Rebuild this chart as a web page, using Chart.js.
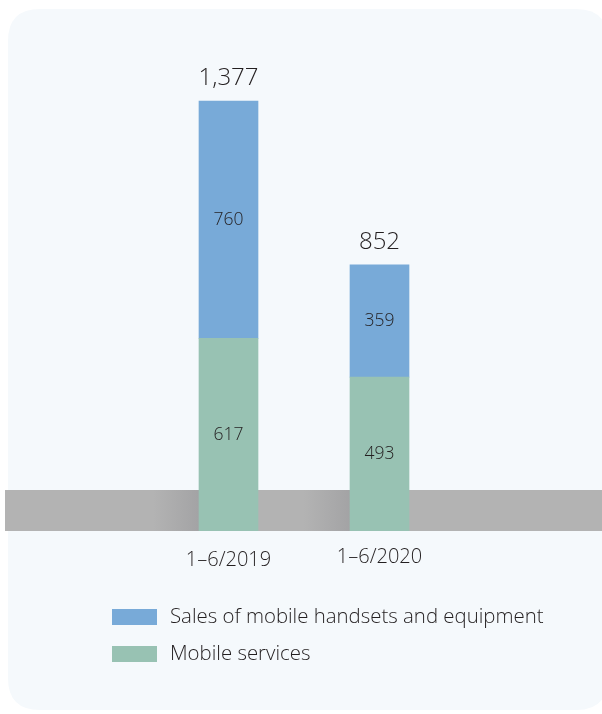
<!DOCTYPE html>
<html>
<head>
<meta charset="utf-8">
<script src="https://cdn.jsdelivr.net/npm/chart.js@4"></script>
<style>
  html, body { margin: 0; padding: 0; background: #ffffff; }
  #wrap { width: 602px; height: 714px; }
</style>
</head>
<body>
<div id="wrap"><canvas id="chart" width="602" height="714"></canvas></div>
<script>
const periods = ["1–6/2019", "1–6/2020"];
const handsets = [760, 359];
const services = [617, 493];
const totals = [1377, 852];
const seriesNames = ["Sales of mobile handsets and equipment", "Mobile services"];

const FONT = "'Open Sans', 'Noto Sans', sans-serif";
const INK = "#231f20";

function roundRect(ctx, x, y, w, h, r) {
    ctx.beginPath();
    ctx.moveTo(x + r, y);
    ctx.lineTo(x + w - r, y);
    ctx.quadraticCurveTo(x + w, y, x + w, y + r);
    ctx.lineTo(x + w, y + h - r);
    ctx.quadraticCurveTo(x + w, y + h, x + w - r, y + h);
    ctx.lineTo(x + r, y + h);
    ctx.quadraticCurveTo(x, y + h, x, y + h - r);
    ctx.lineTo(x, y + r);
    ctx.quadraticCurveTo(x, y, x + r, y);
    ctx.closePath();
}

// panel, grey floor band and shadows behind the bars
const backdrop = {
    id: "backdrop",
    beforeDraw(chart) {
        const ctx = chart.ctx;
        const area = chart.chartArea;
        ctx.save();
        ctx.fillStyle = "#f5f9fc";
        roundRect(ctx, 8, 9, 600, 701, 32);
        ctx.fill();

        const bandTop = area.bottom - 41;
        ctx.fillStyle = "#b3b3b3";
        ctx.fillRect(5, bandTop, 597, area.bottom - bandTop);

        const meta = chart.getDatasetMeta(0);
        meta.data.forEach((bar) => {
            const left = bar.x - bar.width / 2;
            const g = ctx.createLinearGradient(left - 46, 0, left, 0);
            g.addColorStop(0, "rgba(150,150,153,0)");
            g.addColorStop(1, "rgba(150,150,153,0.55)");
            ctx.fillStyle = g;
            ctx.fillRect(left - 46, bandTop, 46, area.bottom - bandTop);
        });
        ctx.restore();
    },
    afterDatasetsDraw(chart) {
        const ctx = chart.ctx;
        const x = chart.scales.x;
        const y = chart.scales.y;
        ctx.save();
        ctx.fillStyle = INK;
        ctx.textAlign = "center";
        ctx.textBaseline = "middle";

        // segment values
        chart.data.datasets.forEach((ds, i) => {
            chart.getDatasetMeta(i).data.forEach((bar, j) => {
                ctx.font = "300 17.5px " + FONT;
                ctx.fillText(ds.data[j], bar.x, (bar.y + bar.base) / 2);
            });
        });

        // totals above each bar
        totals.forEach((t, j) => {
            ctx.font = "300 24px " + FONT;
            ctx.fillText(t.toLocaleString("en-US"), x.getPixelForValue(j), y.getPixelForValue(t) - 23);
        });

        // category labels
        const labelY = [560, 557];
        periods.forEach((p, j) => {
            ctx.font = "300 20px " + FONT;
            ctx.fillText(p, x.getPixelForValue(j), labelY[j]);
        });

        // legend
        const order = [1, 0];
        order.forEach((di, k) => {
            const ds = chart.data.datasets[di];
            const top = 609 + k * 37;
            ctx.fillStyle = ds.backgroundColor;
            ctx.fillRect(112, top, 45, 16);
            ctx.fillStyle = INK;
            ctx.textAlign = "left";
            ctx.font = "300 20.4px " + FONT;
            ctx.fillText(ds.label, 170, top + 8);
        });
        ctx.restore();
    }
};

const ctx = document.getElementById("chart").getContext("2d");
new Chart(ctx, {
    type: "bar",
    data: {
        labels: periods,
        datasets: [
            { label: seriesNames[1], data: services, backgroundColor: "#98c2b3" },
            { label: seriesNames[0], data: handsets, backgroundColor: "#78aad8" }
        ]
    },
    options: {
        responsive: false,
        animation: false,
        layout: { padding: { left: 153, right: 147, top: 62.6, bottom: 183 } },
        datasets: { bar: { barThickness: 59 } },
        scales: {
            x: { stacked: true, display: false },
            y: { stacked: true, display: false, min: 0, max: 1500 }
        },
        plugins: {
            legend: { display: false },
            tooltip: { enabled: false }
        }
    },
    plugins: [backdrop]
});
</script>
</body>
</html>
